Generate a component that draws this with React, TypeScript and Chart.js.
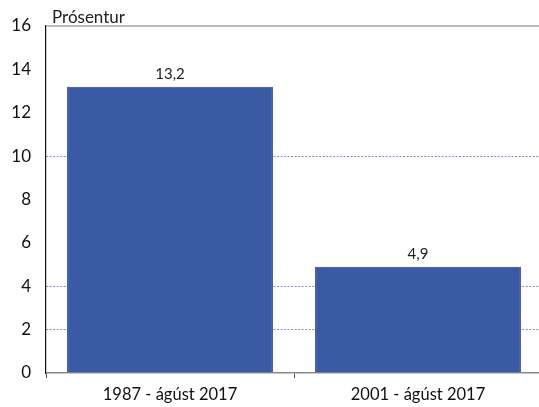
import { useEffect, useRef } from "react";
import { Chart, registerables } from "chart.js";

Chart.register(...registerables);

const categories = ["1987 - ágúst 2017", "2001 - ágúst 2017"];
const values = [13.2, 4.9];
const valueLabels = ["13,2", "4,9"];
const yTicks = [0, 2, 4, 6, 8, 10, 12, 14, 16];
const gridValues = [2, 4, 10];
const unitLabel = "Prósentur";

const FONT = "Lato, 'Open Sans', sans-serif";

export default function App() {
  const ref = useRef<HTMLCanvasElement | null>(null);

  useEffect(() => {
    if (!ref.current) return;
    const overlay = {
      id: "overlay",
      afterDraw(chart: any) {
        const { ctx, chartArea } = chart;
        const y = chart.scales.y;
        const top = y.getPixelForValue(yTicks[yTicks.length - 1]);
        ctx.save();
        ctx.strokeStyle = "#a6a6a6";
        ctx.lineWidth = 1.5;
        ctx.beginPath();
        ctx.moveTo(chartArea.left, top);
        ctx.lineTo(chartArea.right, top);
        ctx.stroke();

        ctx.fillStyle = "#222";
        ctx.font = `17px ${FONT}`;
        ctx.textAlign = "left";
        ctx.textBaseline = "alphabetic";
        ctx.fillText(unitLabel, chartArea.left + 6, top - 3);

        const meta = chart.getDatasetMeta(0);
        ctx.font = `15px ${FONT}`;
        ctx.textAlign = "center";
        meta.data.forEach((el: any, i: number) => {
          ctx.fillText(valueLabels[i], el.x, el.y - 8);
        });
        ctx.restore();
      },
    };

    const chart = new Chart(ref.current, {
      type: "bar",
      data: {
        labels: categories,
        datasets: [
          {
            data: values,
            backgroundColor: "#3A5AA6",
            borderColor: "#2C4482",
            borderWidth: 1,
            barPercentage: 0.83,
            categoryPercentage: 1,
          },
        ],
      },
      options: {
        animation: false,
        responsive: false,
        layout: { padding: { left: 8, top: 26, right: 3, bottom: 0 } },
        plugins: { legend: { display: false }, tooltip: { enabled: false } },
        scales: {
          x: {
            offset: true,
            afterFit(scale: any) {
              scale.height = 34;
            },
            grid: {
              offset: true,
              drawOnChartArea: false,
              drawTicks: true,
              tickLength: 5,
              color: "#555",
            },
            border: { color: "#8c8c8c", width: 1.5 },
            ticks: {
              color: "#111",
              font: { family: FONT, size: 16.5 },
              padding: 7,
              maxRotation: 0,
            },
          },
          y: {
            min: 0,
            max: 16,
            afterFit(scale: any) {
              scale.width = 38;
            },
            afterBuildTicks(scale: any) {
              scale.ticks = yTicks.map((v) => ({ value: v }));
            },
            grid: {
              drawTicks: false,
              color: (c: any) =>
                gridValues.includes(c.tick?.value) ? "#7D8EC2" : "rgba(0,0,0,0)",
              lineWidth: 1,
            },
            border: { color: "#111", width: 1.2, dash: [2, 1.5] },
            ticks: {
              color: "#111",
              font: { family: FONT, size: 17 },
              padding: 15,
            },
          },
        },
      },
      plugins: [overlay],
    });
    return () => chart.destroy();
  }, []);

  return (
    <div
      style={{
        position: "absolute",
        left: 0,
        top: 0,
        width: 539,
        height: 407,
        overflow: "hidden",
        background: "#fff",
      }}
    >
      <canvas ref={ref} width={545} height={407} style={{ width: 545, height: 407 }} />
    </div>
  );
}
